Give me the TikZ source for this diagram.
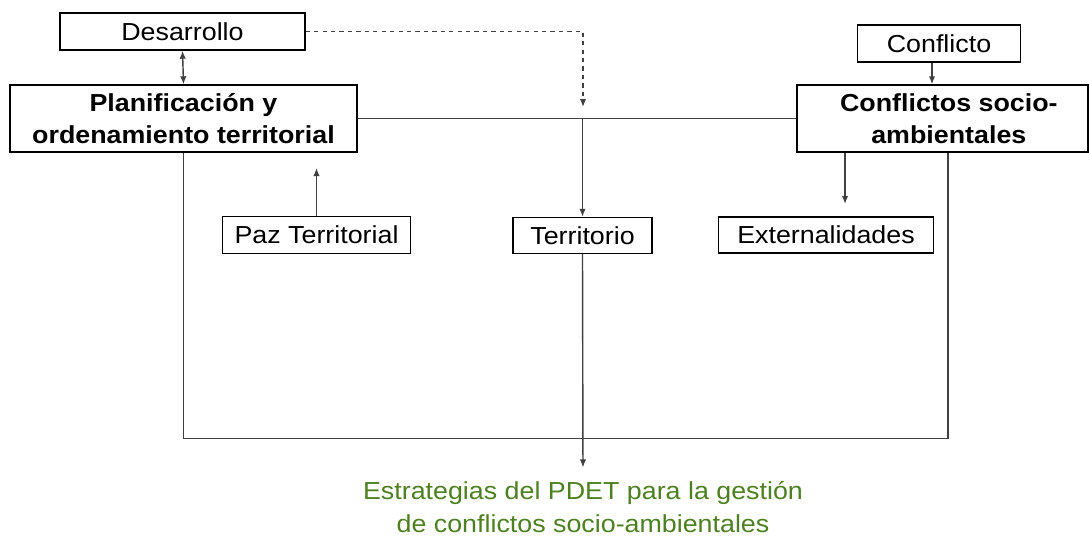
\documentclass[tikz,border=0pt]{standalone}
\usepackage{fontspec}
\setmainfont{Liberation Sans}[FakeStretch=1.09]
\usepackage{tikz}
\usetikzlibrary{arrows.meta,calc}

\definecolor{linegray}{HTML}{404040}
\definecolor{pdetgreen}{RGB}{76,128,32}

\tikzset{
  box/.style={draw=black, line width=1pt, inner sep=0pt, align=center, font=\fontsize{17.5}{23.1}\selectfont},
  bigbox/.style={box, font=\fontsize{17.5}{23.1}\selectfont\bfseries},
  link/.style={draw=linegray, line width=1pt},
  tip/.style={link, -{Latex[length=2mm,width=1.6mm]}},
  twotip/.style={link, {Latex[length=2mm,width=1.6mm]}-{Latex[length=2mm,width=1.6mm]}}
}

\begin{document}
\begin{tikzpicture}[x=0.025cm, y=-0.025cm]
  \useasboundingbox (0,0) rectangle (1089,535);

  % boxes
  \node[box, minimum width=6.125cm, minimum height=0.925cm] (des) at (182.5,31.5) {Desarrollo};
  \node[bigbox, minimum width=8.675cm, minimum height=1.675cm] (plan) at (183.5,118.5) {Planificación y\\ordenamiento territorial};
  \node[box, minimum width=4.7cm, minimum height=0.925cm] (paz) at (316.5,235) {Paz Territorial};
  \node[box, minimum width=3.475cm, minimum height=0.9cm] (terr) at (582.5,235.5) {Territorio};
  \node[box, minimum width=5.375cm, minimum height=0.9cm] (ext) at (826,235) {Externalidades};
  \node[box, minimum width=4.075cm, minimum height=0.925cm] (conf) at (939,43.5) {Conflicto};
  \node[bigbox, minimum width=7.275cm, minimum height=1.675cm] (csa) at (942.5,118.5) {\hspace*{9pt}Conflictos socio-\\\hspace*{9pt}ambientales};
  \node[align=center, text=pdetgreen, inner sep=0pt, text depth=0pt, anchor=south,
        font=\fontsize{17.5}{23.3}\selectfont] (goal) at (583,532.5)
        {Estrategias del PDET para la gestión\\de conflictos socio-ambientales};

  % free ends
  \coordinate (j) at (plan.east -| terr.north);
  \coordinate (dashend) at (583,107);
  \coordinate (pazend) at (316.5,168);
  \coordinate (extend) at (845,204);
  \coordinate (base) at (583,438.5);
  \coordinate (cin) at ($(conf.south)+(-7,0)$);
  \coordinate (rdrop) at ($(csa.south)+(5.5,0)$);

  % connectors
  \draw[link] (plan.east) -- (csa.west);
  \draw[twotip] (des.south) -- (plan.north);
  \draw[tip, dashed] (des.east) -| (dashend);
  \draw[tip] (j) -- (terr.north);
  \draw[tip] (paz.north) -- (pazend);
  \draw[tip] (cin) -- (cin |- csa.north);
  \draw[tip] (csa.south -| extend) -- (extend);
  \draw[link] (plan.south) |- (base) -| (rdrop);
  \draw[tip, shorten >=0.34cm] (terr.south) -- (goal.north);
\end{tikzpicture}
\end{document}
